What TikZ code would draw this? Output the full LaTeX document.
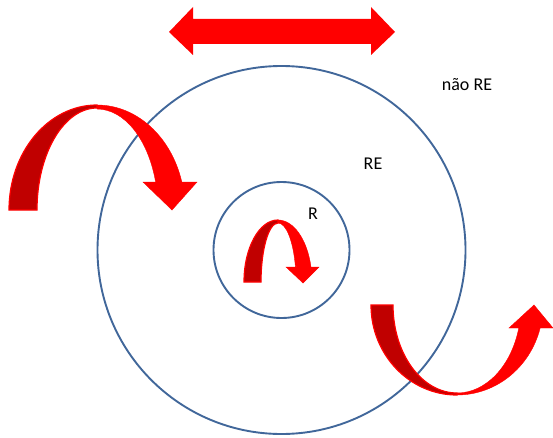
\documentclass[tikz,border=0pt]{standalone}
\usepackage{fontspec}
\setmainfont{Carlito}
\definecolor{ringblue}{HTML}{41679A}
\definecolor{brightred}{HTML}{FF0000}
\definecolor{darkred}{HTML}{C00000}
\begin{document}
\begin{tikzpicture}[x=1pt,y=1pt,
  ring/.style={draw=ringblue,line width=1.9pt},
  topface/.style={fill=brightred,draw=brightred,line width=0.4pt},
  underface/.style={fill=darkred,draw=brightred,line width=1.2pt},
  lbl/.style={font=\fontsize{18}{20}\selectfont,inner sep=0pt}]
\useasboundingbox (0,0) rectangle (553,437);
% circles
\node[ring,circle,minimum size=368pt,inner sep=0pt] (outer) at (281.5,187) {};
\node[ring,circle,minimum size=136pt,inner sep=0pt] (inner) at (281.5,187) {};
% labels
\node[lbl] (nre) at (467,352) {não RE};
\node[lbl] (re) at (373,273) {RE};
\node[lbl] (r) at (313,223) {R};
% double arrow
\fill[brightred] (169,405) -- (193,430) -- (193,418) -- (371,418) -- (371,430) -- (395,405)
  -- (371,382) -- (371,393) -- (193,393) -- (193,382) -- cycle;
% big left curved arrow (center 97,227)
\filldraw[underface] (9,227) arc[start angle=180,end angle=90,x radius=88pt,y radius=105pt]
  -- (97,329) arc[start angle=90,end angle=180,x radius=60pt,y radius=102pt] -- cycle;
\filldraw[topface] (97,332) arc[start angle=90,end angle=15.5,x radius=88pt,y radius=105pt]
  -- ({97+61*cos(16)},{227+101*sin(16)}) arc[start angle=16,end angle=90,x radius=61pt,y radius=101pt] -- (97,329) -- cycle;
\filldraw[topface] (143,255) -- (197,255) -- (172,227) -- cycle;
% small inner curved arrow (center 278,155)
\filldraw[underface] (244,155) arc[start angle=180,end angle=90,x radius=34pt,y radius=62pt]
  -- (278,214) arc[start angle=90,end angle=180,x radius=17pt,y radius=59pt] -- cycle;
\filldraw[topface] (278,217) arc[start angle=90,end angle=14,x radius=34pt,y radius=62pt]
  -- ({278+18*cos(15)},{155+59*sin(15)}) arc[start angle=15,end angle=90,x radius=18pt,y radius=59pt] -- cycle;
\filldraw[topface] (286,170) -- (319,170) -- (303,154) -- cycle;
% bottom right curved arrow (center 457,132)
\filldraw[underface] (371,132) arc[start angle=180,end angle=270,x radius=86pt,y radius=90pt]
  -- (457,44) arc[start angle=270,end angle=180,x radius=64pt,y radius=88pt] -- cycle;
\filldraw[topface] (457,42) arc[start angle=270,end angle=345.2,x radius=86pt,y radius=90pt]
  -- ({457+64*cos(344.8)},{132+88*sin(344.8)}) arc[start angle=344.8,end angle=270,x radius=64pt,y radius=88pt] -- cycle;
\filldraw[topface] (509,109) -- (553,109) -- (534,132) -- cycle;
\end{tikzpicture}
\end{document}
